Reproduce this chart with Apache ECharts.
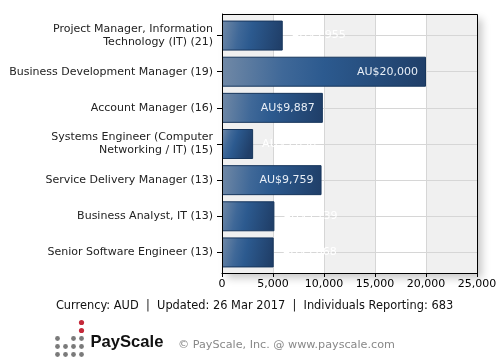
<!DOCTYPE html>
<html>
<head>
<meta charset="utf-8">
<script src="https://cdn.jsdelivr.net/npm/echarts@6/dist/echarts.min.js"></script>
<style>html,body{margin:0;padding:0;background:#fff}#c{width:500px;height:360px}</style>
</head>
<body>
<div id="c"></div>
<script>
const categories = [
  'Project Manager, Information\nTechnology (IT) (21)',
  'Business Development Manager (19)',
  'Account Manager (16)',
  'Systems Engineer (Computer\nNetworking / IT) (15)',
  'Service Delivery Manager (13)',
  'Business Analyst, IT (13)',
  'Senior Software Engineer (13)'
];
const salaries = [5955, 20000, 9887, 3050, 9759, 5139, 5068];
const xTicks = [0, 5000, 10000, 15000, 20000, 25000];
const footerText = 'Currency: AUD  |  Updated: 26 Mar 2017  |  Individuals Reporting: 683';
const copyrightText = '\u00a9 PayScale, Inc. @ www.payscale.com';

const FONT = 'DejaVu Sans';
const fmt = v => 'AU$' + v.toLocaleString('en-US');

const barColor = new echarts.graphic.LinearGradient(0, 0, 1, 0.35, [
  {offset: 0, color: '#7189a6'},
  {offset: 0.3, color: '#3f6898'},
  {offset: 0.5, color: '#2c5a8f'},
  {offset: 1, color: '#203f69'}
]);

const barData = salaries.map(v => ({
  value: v,
  label: v >= 9000
    ? {position: 'insideRight', distance: 8, color: '#e8eef6'}
    : {position: 'right', distance: 9, color: '#ffffff'}
}));

const chart = echarts.init(document.getElementById('c'), null, {renderer: 'canvas'});
chart.setOption({
  animation: false,
  grid: [
    {left: 222, right: 23, top: 14, height: 259},
    {left: 222, right: 23, top: 17.5, height: 253}
  ],
  xAxis: [
    {
      gridIndex: 0, type: 'value', min: xTicks[0], max: xTicks[xTicks.length - 1], interval: 5000,
      z: 0,
      axisLine: {show: true, lineStyle: {color: '#000', width: 1}},
      axisTick: {show: true, length: 4, lineStyle: {color: '#000'}},
      axisLabel: {fontFamily: FONT, fontSize: 11, color: '#000', margin: 6,
        formatter: v => v.toLocaleString('en-US')},
      splitLine: {show: true, lineStyle: {color: '#d6d6d6', width: 1}},
      splitArea: {show: true, areaStyle: {color: ['#f0f0f0', '#ffffff']}}
    },
    {
      gridIndex: 1, type: 'value', min: xTicks[0], max: xTicks[xTicks.length - 1], show: false
    }
  ],
  yAxis: [
    {
      gridIndex: 0, type: 'value', min: 0, max: 1, z: 0,
      axisLine: {show: true, lineStyle: {color: '#000'}},
      axisTick: {show: false}, axisLabel: {show: false}, splitLine: {show: false}
    },
    {
      gridIndex: 1, type: 'category', data: categories, inverse: true, z: 1,
      axisLine: {show: false},
      axisTick: {show: true, alignWithLabel: true, length: 5, lineStyle: {color: '#000'}},
      axisLabel: {fontFamily: FONT, fontSize: 11, color: '#222', margin: 9, lineHeight: 13, align: 'right'},
      splitLine: {show: true, alignWithLabel: true, lineStyle: {color: '#d6d6d6'}}
    }
  ],
  series: [{
    type: 'bar',
    xAxisIndex: 1, yAxisIndex: 1,
    data: barData,
    barWidth: 30,
    z: 3,
    itemStyle: {color: barColor, borderColor: '#17365c', borderWidth: 1},
    label: {show: true, fontFamily: FONT, fontSize: 11, formatter: p => fmt(p.value)}
  }],
  graphic: [
    {type: 'rect', z: -10, silent: true,
      shape: {x: 222, y: 14, width: 255, height: 259},
      style: {fill: '#fff', shadowBlur: 8, shadowOffsetX: 5, shadowOffsetY: 5, shadowColor: 'rgba(0,0,0,0.22)'}},
    {type: 'rect', z: 100, silent: true,
      shape: {x: 222.5, y: 14.5, width: 255, height: 259},
      style: {fill: 'none', stroke: '#000', lineWidth: 1}},
    {type: 'text', z: 100,
      style: {x: 254.5, y: 306.5, text: footerText, font: '11.4px "DejaVu Sans"', fill: '#111', align: 'center', verticalAlign: 'middle'}},
    {type: 'group', z: 100, children: [
      {type: 'circle', shape: {cx: 81.5, cy: 322.5, r: 2.6}, style: {fill: '#c4293a'}},
      {type: 'circle', shape: {cx: 81.5, cy: 330.5, r: 2.6}, style: {fill: '#c4293a'}},
      {type: 'circle', shape: {cx: 57.5, cy: 338.5, r: 2.4}, style: {fill: '#7a7a7a'}},
      {type: 'circle', shape: {cx: 73.5, cy: 338.5, r: 2.4}, style: {fill: '#7a7a7a'}},
      {type: 'circle', shape: {cx: 81.5, cy: 338.5, r: 2.4}, style: {fill: '#7a7a7a'}},
      {type: 'circle', shape: {cx: 57.5, cy: 346.5, r: 2.4}, style: {fill: '#7a7a7a'}},
      {type: 'circle', shape: {cx: 65.5, cy: 346.5, r: 2.4}, style: {fill: '#7a7a7a'}},
      {type: 'circle', shape: {cx: 73.5, cy: 346.5, r: 2.4}, style: {fill: '#7a7a7a'}},
      {type: 'circle', shape: {cx: 81.5, cy: 346.5, r: 2.4}, style: {fill: '#7a7a7a'}},
      {type: 'circle', shape: {cx: 57.5, cy: 354.5, r: 2.4}, style: {fill: '#7a7a7a'}},
      {type: 'circle', shape: {cx: 65.5, cy: 354.5, r: 2.4}, style: {fill: '#7a7a7a'}},
      {type: 'circle', shape: {cx: 73.5, cy: 354.5, r: 2.4}, style: {fill: '#7a7a7a'}},
      {type: 'circle', shape: {cx: 81.5, cy: 354.5, r: 2.4}, style: {fill: '#7a7a7a'}},
      {type: 'text', style: {x: 90.5, y: 342, text: 'PayScale', font: 'bold 16.6px "Liberation Sans"', fill: '#111', verticalAlign: 'middle'}},
      {type: 'text', style: {x: 178, y: 345, text: copyrightText, font: '11.2px "DejaVu Sans"', fill: '#888', verticalAlign: 'middle'}}
    ]}
  ]
});
</script>
</body>
</html>
